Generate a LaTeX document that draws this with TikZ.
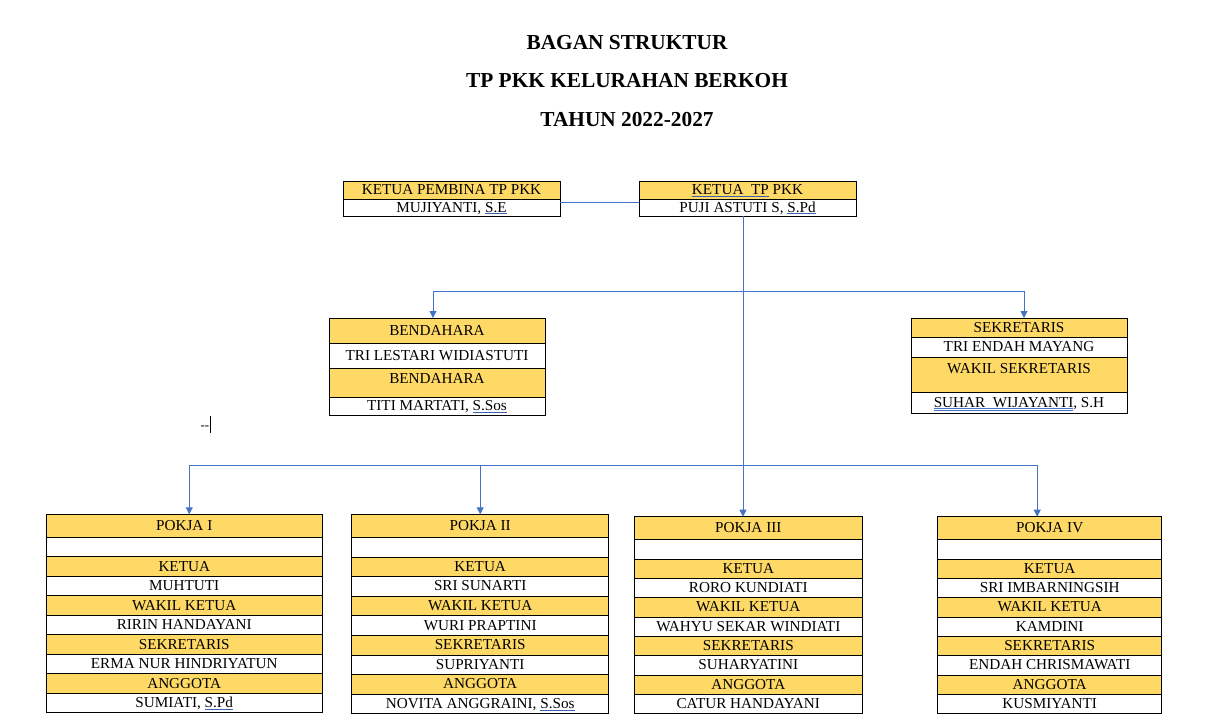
\documentclass[tikz,border=0pt]{standalone}
\usepackage{fontspec}
\setmainfont{Liberation Serif}
\usepackage{xcolor}
\usetikzlibrary{arrows.meta, positioning}

\definecolor{kuning}{HTML}{FFD966}
\definecolor{biru}{HTML}{4472C4}
\definecolor{birutua}{HTML}{3B62B0}
\newcommand{\tandai}[1]{{\color{birutua}\underline{\color{black}#1}}}
\newcommand{\tandaidua}[1]{{\color{biru}\underline{\underline{\color{black}#1}}}}

\tikzset{
  kotak/.style={draw, line width=0.8pt, inner sep=0pt, outer sep=0pt, font=\fontsize{15.2}{17}\selectfont, text height=10pt, text depth=1pt},
  kepala/.style={kotak, fill=kuning},
  isi/.style={kotak, fill=white},
  garis/.style={draw=biru, line width=0.9pt},
  panah/.style={garis, -{Triangle[width=7pt,length=7pt]}},
  judul/.style={font=\fontsize{21.33}{24}\selectfont\bfseries, anchor=base}
}

\begin{document}
\begin{tikzpicture}[x=1pt, y=-1pt]
    \fill[white] (0,0) rectangle (1207,723);
    \useasboundingbox (0,0) rectangle (1207,723);

    % Judul
    \node[judul] (judul1) at (627,49) {BAGAN STRUKTUR};
    \node[judul] (judul2) at (627,87) {TP PKK KELURAHAN BERKOH};
    \node[judul] (judul3) at (627,126) {TAHUN 2022-2027};

    % Pembina dan ketua
    \node[kepala, anchor=north west, minimum width=217, minimum height=18] (pembina-0) at (343,181) {KETUA PEMBINA TP PKK};
    \node[isi, below=0pt of pembina-0, minimum width=217, minimum height=17] (pembina-1) {MUJIYANTI, \tandai{S.E}};
    \node[kepala, anchor=north west, minimum width=217, minimum height=18] (ketua-0) at (639,181) {\tandai{KETUA\ \ TP} PKK};
    \node[isi, below=0pt of ketua-0, minimum width=217, minimum height=17] (ketua-1) {PUJI ASTUTI S, \tandai{S.Pd}};

    % Bendahara
    \node[kepala, anchor=north west, minimum width=216, minimum height=25] (bendahara-0) at (329,318) {BENDAHARA};
    \node[isi, below=0pt of bendahara-0, minimum width=216, minimum height=25] (bendahara-1) {TRI LESTARI WIDIASTUTI};
    \node[kepala, below=0pt of bendahara-1, minimum width=216, minimum height=29, text depth=8pt] (bendahara-2) {BENDAHARA};
    \node[isi, below=0pt of bendahara-2, minimum width=216, minimum height=18] (bendahara-3) {TITI MARTATI, \tandai{S.Sos}};

    % Sekretaris
    \node[kepala, anchor=north west, minimum width=216, minimum height=19] (sekretaris-0) at (911,318) {SEKRETARIS};
    \node[isi, below=0pt of sekretaris-0, minimum width=216, minimum height=20] (sekretaris-1) {TRI ENDAH MAYANG};
    \node[kepala, below=0pt of sekretaris-1, minimum width=216, minimum height=35, text depth=12pt] (sekretaris-2) {WAKIL SEKRETARIS};
    \node[isi, below=0pt of sekretaris-2, minimum width=216, minimum height=21] (sekretaris-3) {\tandaidua{SUHAR\ \ WIJAYANTI}, S.H};

    % Pokja
    \foreach \n/\x/\y/\w/\h/\pj/\ka/\kb/\kc/\kd in {
        1/46/514.3/276.5/19.5/POKJA I/MUHTUTI/RIRIN HANDAYANI/ERMA NUR HINDRIYATUN/{SUMIATI, \tandai{S.Pd}},
        2/351.7/514.3/257/19.6/POKJA II/SRI SUNARTI/WURI PRAPTINI/SUPRIYANTI/{NOVITA ANGGRAINI, \tandai{S.Sos}},
        3/634.3/516.7/228/19.33/POKJA III/RORO KUNDIATI/WAHYU SEKAR WINDIATI/SUHARYATINI/CATUR HANDAYANI,
        4/937.7/516.7/224/19.33/POKJA IV/SRI IMBARNINGSIH/KAMDINI/ENDAH CHRISMAWATI/KUSMIYANTI} {
        \begin{scope}[every node/.append style={minimum width=\w, minimum height=\h}]
        \node[kepala, anchor=north west, minimum height=23] (p\n-0) at (\x,\y) {\pj};
        \node[isi, below=0pt of p\n-0] (p\n-1) {};
        \node[kepala, below=0pt of p\n-1] (p\n-2) {KETUA};
        \node[isi, below=0pt of p\n-2] (p\n-3) {\ka};
        \node[kepala, below=0pt of p\n-3] (p\n-4) {WAKIL KETUA};
        \node[isi, below=0pt of p\n-4] (p\n-5) {\kb};
        \node[kepala, below=0pt of p\n-5] (p\n-6) {SEKRETARIS};
        \node[isi, below=0pt of p\n-6] (p\n-7) {\kc};
        \node[kepala, below=0pt of p\n-7] (p\n-8) {ANGGOTA};
        \node[isi, below=0pt of p\n-8] (p\n-9) {\kd};
        \end{scope}
    }

    % Garis penghubung
    \coordinate (simpang1) at (743,291);
    \coordinate (simpang2) at (743,465);
    \draw[garis] ([yshift=-3pt]pembina-1.north east) -- ([yshift=-3pt]ketua-1.north west);
    \draw[panah] ([xshift=-4.5pt]ketua-1.south) -- ([xshift=-4.5pt]ketua-1.south |- p3-0.north);
    \draw[panah] (simpang1) -| ([xshift=-4pt]bendahara-0.north);
    \draw[panah] (simpang1) -| ([xshift=5pt]sekretaris-0.north);
    \draw[panah] (simpang2) -| ([xshift=5pt]p1-0.north);
    \draw[panah] (simpang2) -| (p2-0.north);
    \draw[panah] (simpang2) -| ([xshift=-12.5pt]p4-0.north);

    % Kursor
    \node[anchor=base east, inner sep=0pt, font=\fontsize{13}{14}\selectfont] (kursor) at (209.5,429) {{-}{-}};
    \draw[line width=1pt] (210.7,416) -- (210.7,433);

\end{tikzpicture}
\end{document}
